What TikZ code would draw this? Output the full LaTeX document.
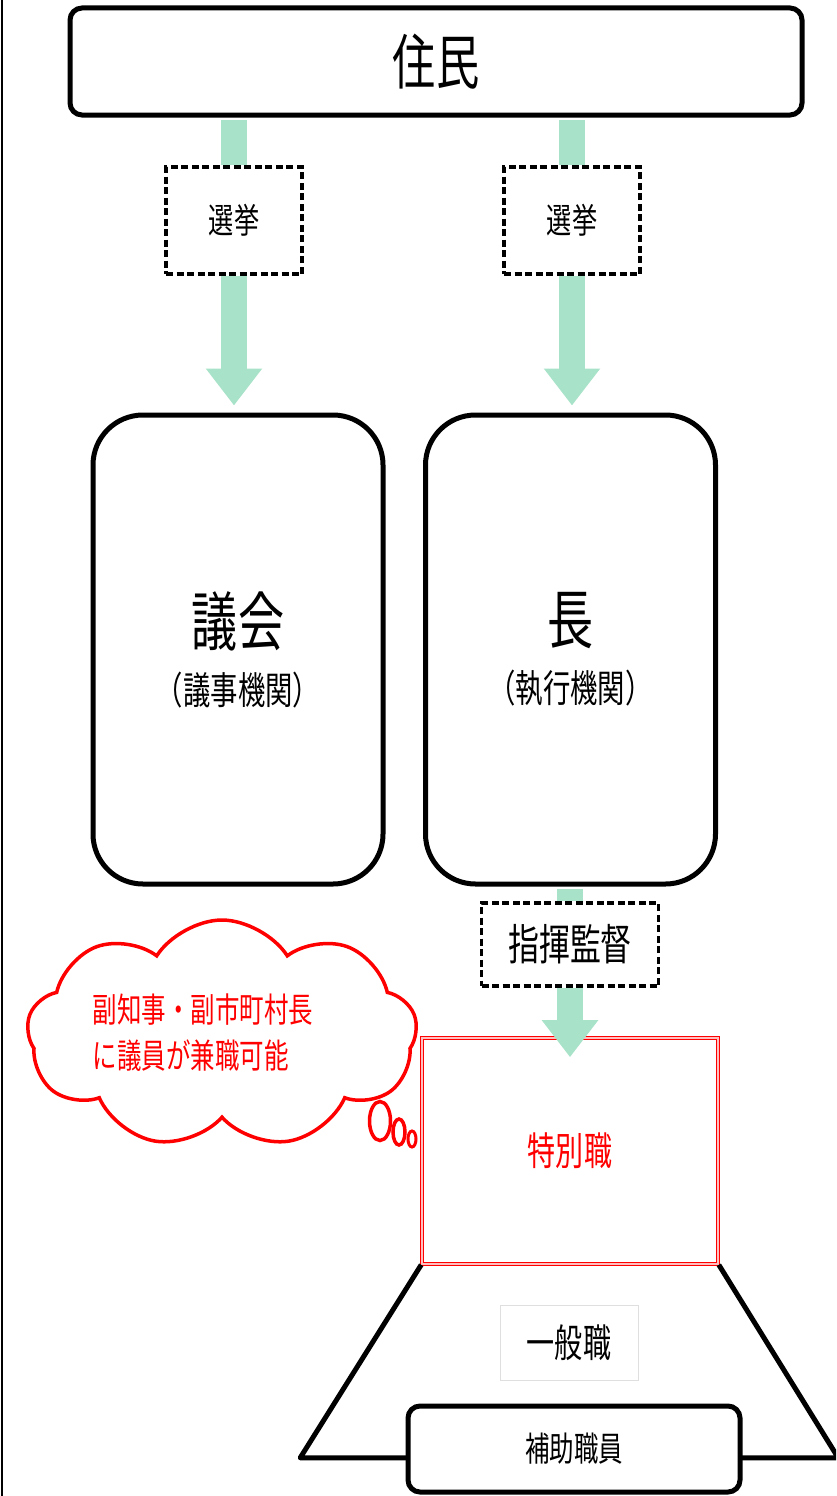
\documentclass[tikz,border=0pt]{standalone}
\usepackage{fontspec}
\setmainfont{Noto Sans CJK JP}[FakeStretch=0.72]
\usetikzlibrary{arrows.meta,shapes.symbols,positioning}
\definecolor{bargreen}{RGB}{168,226,200}
\newcommand{\fs}[1]{\fontsize{#1}{#1}\selectfont}

\begin{document}
\begin{tikzpicture}[x=1pt,y=-1pt,
        roundbox/.style={draw,line width=5pt,rounded corners=12pt,fill=white,inner sep=0pt},
        organ/.style={roundbox,rounded corners=50pt,minimum width=290pt,minimum height=469pt,align=center},
        dashbox/.style={draw,line width=3.5pt,dash pattern=on 7pt off 3.5pt,fill=white,inner sep=0pt},
        bar/.style={line width=26pt,draw=bargreen},
        bararrow/.style={bar,-{Triangle[length=37pt,width=54pt]}},
        redline/.style={draw=red,line width=3.5pt,fill=white}]
        \useasboundingbox (0,0) rectangle (836,1496);
        \clip (0,0) rectangle (836,1496);
        \draw[line width=2pt] (2,0) -- (2,1496);

        % 住民と選挙
        \node[roundbox,minimum width=732pt,minimum height=107pt,font=\fs{60}] (jumin) at (436,61.5) {住民};
        \node[dashbox,minimum width=136pt,minimum height=107pt,font=\fs{35}] (senkyoL) at (234,220.5) {選挙};
        \node[dashbox,minimum width=136pt,minimum height=107pt,font=\fs{35}] (senkyoR) at (572,220.5) {選挙};

        \node[organ] (gikai) at (238,649.5) {{\fs{64}議会}\\[20pt]{\fs{38}（議事機関）}};
        \node[organ] (cho) at (570.5,649.5) {{\fs{64}長}\\[20pt]{\fs{38}（執行機関）}};

        \draw[bar,shorten <=2.5pt] (jumin.south -| senkyoL) -- (senkyoL.north);
        \draw[bar,shorten <=2.5pt] (jumin.south -| senkyoR) -- (senkyoR.north);
        \draw[bararrow,shorten >=7pt] (senkyoL.south) -- (senkyoL |- gikai.north);
        \draw[bararrow,shorten >=7pt] (senkyoR.south) -- (senkyoR |- cho.north);

        % 執行機関の下
        \node[dashbox,minimum width=177pt,minimum height=83pt,font=\fs{43}] (shiki) at (570,944.5) {指揮監督};
        \node[draw=red,line width=1.6pt,double=red!25,double distance=1.4pt,minimum width=296pt,minimum height=226pt,
            text=red,font=\fs{39}] (tokubetsu) at (570,1151) {特別職};
        \draw[bar,shorten <=2.5pt] (cho.south -| shiki) -- (shiki.north);
        \draw[bararrow] (shiki.south) -- ([yshift=-20pt]tokubetsu.north -| shiki);

        \draw[line width=5pt,line join=round] (tokubetsu.south west) -- ++(-121,193) -- ++(538,0) -- (tokubetsu.south east);
        \node[draw=gray!25,line width=0.6pt,minimum width=138pt,minimum height=75pt,font=\fs{39}] (ippan) at (569,1342.5) {一般職};
        \node[roundbox,minimum width=332pt,minimum height=86pt,font=\fs{34}] (hojo) at (574,1449) {補助職員};

        % 兼職の吹き出し
        \node[cloud,cloud puffs=9,cloud puff arc=115,cloud ignores aspect,redline,minimum width=390pt,minimum height=228pt] (kenshoku) at (222,1034) {};
        \node[text=red,align=left,font=\fs{34}] (kenshokuText) at (203,1033) {副知事・副市町村長\\[12pt]に議員が兼職可能};
        \draw[redline] (380,1121) ellipse [x radius=10.5pt,y radius=19.5pt];
        \draw[redline] (399,1132) ellipse [x radius=6pt,y radius=13pt];
        \draw[redline,line width=3pt] (412,1139) ellipse [x radius=4pt,y radius=8pt];
\end{tikzpicture}
\end{document}
